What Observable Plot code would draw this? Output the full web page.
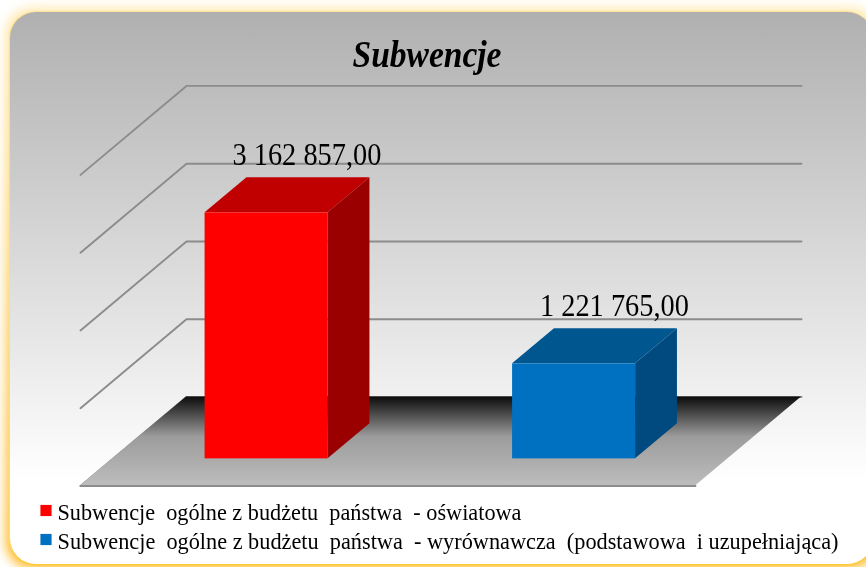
<!DOCTYPE html>
<html lang="pl">
<head>
<meta charset="utf-8">
<script src="https://cdn.jsdelivr.net/npm/d3@7"></script>
<script src="https://cdn.jsdelivr.net/npm/@observablehq/plot@0.6"></script>
<style>
  html, body { margin: 0; background: #fff; }
  #stage { position: relative; width: 866px; height: 567px; overflow: hidden; }
  #glow, #panel { position: absolute; border-radius: 26px; }
  #glow { left: 6px; top: 8px; width: 871px; height: 560px; background: linear-gradient(#ffe9ad, #ffb81c); filter: blur(6px); }
  #panel { left: 10px; top: 12px; width: 863px; height: 552px; background: linear-gradient(#b0b0b0 0%, #ffffff 85%); box-shadow: 0 1.5px 0 #ffc93c, -1px 0 1px #ffdc85, 0 -1px 1px #ffe39a; }
  #chart { position: absolute; left: 0; top: 0; }
  #chart svg { filter: blur(0.6px); white-space: pre; background: transparent; }
</style>
</head>
<body>
<div id="stage"><div id="glow"></div><div id="panel"></div><div id="chart"></div></div>
<script>
const title = "Subwencje";
const categories = [
  "Subwencje  ogólne z budżetu  państwa  - oświatowa",
  "Subwencje  ogólne z budżetu  państwa  - wyrównawcza  (podstawowa  i uzupełniająca)"
];
const values = [3162857, 1221765];
const frontColors = ["#ff0000", "#0070c0"];
const topColors = ["#c00000", "#00568f"];
const sideColors = ["#9a0000", "#004a80"];
const gridValues = [0, 1000000, 2000000, 3000000, 4000000];

// oblique projection of the 3D box: u across the categories, v value, d depth
const depthX = 106 / 615, depthY = 1144000;
const X = (u, d) => u + d * depthX;
const Y = (v, d) => v + d * depthY;
const barWidth = 0.2, d0 = 0.305, d1 = 0.7;

const fmt = d3.formatLocale({decimal: ",", thousands: " ", grouping: [3]}).format(",.2f");
const bars = categories.map((name, i) => ({
  name, value: values[i], label: fmt(values[i]),
  u0: (i + 0.5) / categories.length - barWidth / 2,
  u1: (i + 0.5) / categories.length + barWidth / 2,
  front: frontColors[i], top: topColors[i], side: sideColors[i]
}));

const gridPts = gridValues.flatMap(v => [[0, 0], [0, 1], [1, 1]].map(([u, d]) => ({v, x: X(u, d), y: Y(v, d)})));
const floor = [0, 1].map(d => ({x1: X(0, d), x2: X(1, d), y: Y(0, d)}));
const topFaces = bars.flatMap(b => [d0, d1].map(d => ({...b, x1: X(b.u0, d), x2: X(b.u1, d), y: Y(b.value, d)})));
const sideFaces = bars.flatMap(b => [d0, d1].map(d => ({...b, x: X(b.u1, d), y1: Y(0, d), y2: Y(b.value, d)})));

const defs = () => {
  const g = document.createElementNS("http://www.w3.org/2000/svg", "defs");
  g.innerHTML = `<linearGradient id="floorGrad" x1="0" y1="0" x2="0" y2="1">
    <stop offset="0" stop-color="#0c0c0c"/><stop offset="0.45" stop-color="#9c9c9c"/><stop offset="1" stop-color="#bdbdbd"/>
  </linearGradient>`;
  return g;
};

const fixedText = (text, dx, dy, o) => Plot.text([text], {text: d => d, frameAnchor: "top-left", dx, dy, textAnchor: "start", lineAnchor: "bottom", fill: "#000", fontFamily: "Liberation Serif", ...o});

const plot = Plot.plot({
  width: 866, height: 567,
  marginTop: 0, marginRight: 0, marginBottom: 0, marginLeft: 0,
  x: {type: "linear", domain: [0, 1], range: [80, 695], axis: null},
  y: {type: "linear", domain: [0, 1000000], range: [485.5, 407.72], axis: null},
  color: {type: "identity"},
  style: {background: "transparent", overflow: "visible"},
  marks: [
    defs,
    Plot.line(gridPts, {x: "x", y: "y", z: "v", stroke: "#8c8c8c", strokeWidth: 1.9, curve: "linear"}),
    Plot.areaX(floor, {x1: "x1", x2: "x2", y: "y", fill: "url(#floorGrad)", curve: "linear"}),
    Plot.line([{x: X(0, 0), y: Y(0, 0)}, {x: X(1, 0), y: Y(0, 0)}], {x: "x", y: "y", stroke: "#8c8c8c", strokeWidth: 1.9}),
    Plot.areaX(topFaces, {x1: "x1", x2: "x2", y: "y", z: "name", fill: "top", curve: "linear"}),
    Plot.areaY(sideFaces, {x: "x", y1: "y1", y2: "y2", z: "name", fill: "side", curve: "linear"}),
    Plot.rect(bars, {
      x1: b => X(b.u0, d0), x2: b => X(b.u1, d0),
      y1: () => Y(0, d0), y2: b => Y(b.value, d0), fill: "front"
    }),
    Plot.text(bars, {
      x: b => X((b.u0 + b.u1) / 2, d1), y: b => Y(b.value, d1), text: "label",
      dx: -1.5, dy: -13, textAnchor: "middle", lineAnchor: "bottom",
      fontFamily: "Liberation Serif", fontSize: 31, fill: "#000", className: "val"
    }),
    fixedText(title, 352, 66, {fontSize: 37, fontWeight: "bold", fontStyle: "italic", className: "ttl"}),
    Plot.dot([frontColors[0]], {frameAnchor: "top-left", dx: 45.5, dy: 510, symbol: "square", r: 6.3, fill: d => d}),
    Plot.dot([frontColors[1]], {frameAnchor: "top-left", dx: 45.5, dy: 539, symbol: "square", r: 6.3, fill: d => d}),
    fixedText(categories[0], 57, 519, {fontSize: 23, className: "lg0"}),
    fixedText(categories[1], 57, 548, {fontSize: 23, className: "lg1"})
  ]
});

// the original is squeezed horizontally: fit each label to its measured width
const fit = (cls, w) => plot.querySelectorAll(`.${cls} text`).forEach(t => {
  t.setAttribute("textLength", w);
  t.setAttribute("lengthAdjust", "spacingAndGlyphs");
});
fit("val", 149); fit("ttl", 149); fit("lg0", 464); fit("lg1", 781);

document.getElementById("chart").append(plot);
</script>
</body>
</html>
